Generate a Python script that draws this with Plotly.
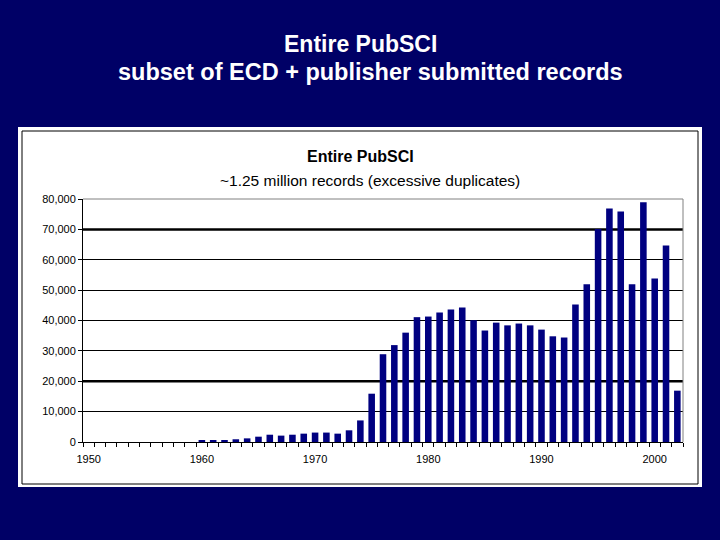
import plotly.graph_objects as go

years = list(range(1950, 2003))
records = [0, 0, 0, 0, 0, 0, 0, 0, 0, 0,
           400, 400, 400, 900, 1200, 1750, 2400, 2100, 2400, 2750,
           3100, 3100, 2750, 3850, 7100, 15900, 28900, 31900, 36000, 41100,
           41300, 42600, 43600, 44300, 40100, 36700, 39300, 38400, 39000, 38400,
           37000, 34800, 34400, 45300, 51900, 70100, 76900, 75900, 51900, 78900,
           53800, 64700, 16900]
y_ticks = list(range(0, 80001, 10000))
x_ticks = [1950, 1960, 1970, 1980, 1990, 2000]
heavy_grid = [20000, 70000]

main_title = "Entire PubSCI"
main_sub = "subset of ECD + publisher submitted records"
chart_title = "Entire PubSCI"
chart_sub = "~1.25 million records (excessive duplicates)"

W, H = 720, 540
L, R, T, B = 83, 683, 199, 442  # plot area in pixels


def px(x):
    return (x - L) / (R - L)


def py(y):
    return (B - y) / (B - T)


FONT = "Arial, Liberation Sans, sans-serif"
NAVY = "#000066"

fig = go.Figure()
fig.add_trace(go.Bar(x=years, y=records, marker_color="#000080",
                     marker_line_width=0, hoverinfo="x+y"))

shapes = [
    dict(type="rect", xref="paper", yref="paper", x0=px(18), x1=px(702),
         y0=py(487), y1=py(127), fillcolor="white", line_width=0, layer="below"),
    dict(type="rect", xref="paper", yref="paper", x0=px(22), x1=px(698),
         y0=py(484), y1=py(131), fillcolor="rgba(0,0,0,0)",
         line=dict(color="black", width=1), layer="below"),
]
for g in heavy_grid:
    shapes.append(dict(type="line", xref="paper", yref="y", x0=0, x1=1, y0=g, y1=g,
                       line=dict(color="black", width=2.5), layer="below"))
# gray plot-area border (top and right)
shapes.append(dict(type="line", xref="paper", yref="paper", x0=0, x1=1, y0=1, y1=1,
                   line=dict(color="#808080", width=1), layer="above"))
shapes.append(dict(type="line", xref="paper", yref="paper", x0=1, x1=1, y0=0, y1=1,
                   line=dict(color="#808080", width=1), layer="above"))

annotations = [
    dict(text=f"<b>{main_title}</b>", xref="paper", yref="paper", x=px(360), y=py(44),
         showarrow=False, font=dict(family=FONT, size=23, color="white"),
         xanchor="center", yanchor="middle"),
    dict(text=f"<b>{main_sub}</b>", xref="paper", yref="paper", x=px(370), y=py(72),
         showarrow=False, font=dict(family=FONT, size=23.5, color="white"),
         xanchor="center", yanchor="middle"),
    dict(text=f"<b>{chart_title}</b>", xref="paper", yref="paper", x=px(360), y=py(156),
         showarrow=False, font=dict(family=FONT, size=16, color="black"),
         xanchor="center", yanchor="middle"),
    dict(text=chart_sub, xref="paper", yref="paper", x=px(370), y=py(180),
         showarrow=False, font=dict(family=FONT, size=15.5, color="black"),
         xanchor="center", yanchor="middle"),
]

fig.update_layout(
    width=W, height=H,
    margin=dict(l=L, r=W - R, t=T, b=H - B, pad=0),
    paper_bgcolor=NAVY, plot_bgcolor="rgba(0,0,0,0)",
    showlegend=False, bargap=0.42,
    shapes=shapes, annotations=annotations,
    font=dict(family=FONT, size=11, color="black"),
    xaxis=dict(range=[1949.5, 2002.5], tickvals=x_ticks, ticks="", showgrid=False,
               showline=True, linecolor="black", linewidth=1, zeroline=False,
               ticklabelstandoff=7,
               tickfont=dict(family=FONT, size=11, color="black"),
               minor=dict(ticks="outside", ticklen=4, tickcolor="black",
                          tick0=1949.5, dtick=1, showgrid=False)),
    yaxis=dict(range=[0, 80000], tickvals=y_ticks, tickformat=",", ticks="outside",
               ticklen=4, tickcolor="black", showgrid=True, gridcolor="black",
               gridwidth=1, showline=True, linecolor="black", linewidth=1,
               zeroline=False, tickfont=dict(family=FONT, size=11, color="black")),
)

fig.write_html("out.html", config={"displayModeBar": False},
               post_script="document.body.style.margin='0';document.body.style.overflow='hidden';")
